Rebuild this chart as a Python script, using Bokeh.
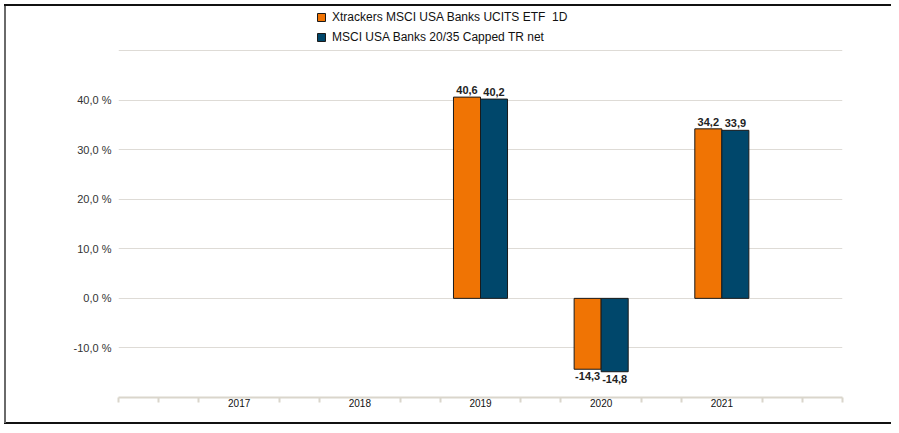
from bokeh.plotting import figure
from bokeh.models import ColumnDataSource, FixedTicker, Legend, LegendItem, Range1d
from bokeh.transform import dodge
from bokeh.core.properties import value
from bokeh.embed import file_html
from bokeh.resources import INLINE

years = [2017, 2018, 2019, 2020, 2021]
etf = [None, None, 40.6, -14.3, 34.2]
idx = [None, None, 40.2, -14.8, 33.9]
series_names = ["Xtrackers MSCI USA Banks UCITS ETF  1D", "MSCI USA Banks 20/35 Capped TR net"]
y_ticks = [-20, -10, 0, 10, 20, 30, 40, 50]
y_labels = {-20: "", -10: "-10,0 %", 0: "0,0 %", 10: "10,0 %", 20: "20,0 %", 30: "30,0 %", 40: "40,0 %", 50: ""}

ORANGE = "#f07404"
NAVY = "#00476b"

def fmt(v):
    return ("%.1f" % v).replace(".", ",")

def make_src(vals):
    xs, ys, labs = [], [], []
    for yr, v in zip(years, vals):
        if v is None:
            continue
        xs.append(yr); ys.append(v); labs.append(fmt(v))
    return ColumnDataSource(dict(x=xs, top=ys, lab=labs))

s1 = make_src(etf)
s2 = make_src(idx)

p = figure(width=891, height=425, output_backend="svg", toolbar_location=None,
           x_range=Range1d(2016, 2022), y_range=Range1d(-20, 60.09),
           min_border_left=118, min_border_right=49, min_border_top=0, min_border_bottom=28)
p.title.visible = False
p.outline_line_color = None
p.background_fill_alpha = 0
p.border_fill_alpha = 0
p.styles = {
    "background-image": "linear-gradient(#111,#111), linear-gradient(#6a6a6a,#6a6a6a), linear-gradient(#111,#111)",
    "background-size": "900px 2px, 2px 419px, 900px 2px",
    "background-position": "4px 4px, 4px 4px, 4px 422px",
    "background-repeat": "no-repeat",
}

off = 0.112
w = 0.224
r1 = p.vbar(x=dodge("x", -off, range=p.x_range), top="top", bottom=0, width=w, source=s1,
            fill_color=ORANGE, line_color="#1a1a1a", line_width=1)
r2 = p.vbar(x=dodge("x", off, range=p.x_range), top="top", bottom=0, width=w, source=s2,
            fill_color=NAVY, line_color="#1a1a1a", line_width=1)

for src, o in ((s1, -off), (s2, off)):
    pos = ColumnDataSource(dict(
        x=[xx + o for xx, t in zip(src.data["x"], src.data["top"]) if t >= 0],
        top=[t for t in src.data["top"] if t >= 0],
        lab=[l for l, t in zip(src.data["lab"], src.data["top"]) if t >= 0]))
    neg = ColumnDataSource(dict(
        x=[xx + o for xx, t in zip(src.data["x"], src.data["top"]) if t < 0],
        top=[t for t in src.data["top"] if t < 0],
        lab=[l for l, t in zip(src.data["lab"], src.data["top"]) if t < 0]))
    p.text(x="x", y="top", text="lab", source=pos, text_align="center", text_baseline="bottom",
           y_offset=-3, text_font=value("Liberation Sans"), text_font_size="11px",
           text_font_style="bold", text_color="#222222")
    p.text(x="x", y="top", text="lab", source=neg, text_align="center", text_baseline="top",
           y_offset=3, text_font=value("Liberation Sans"), text_font_size="11px",
           text_font_style="bold", text_color="#222222")

p.yaxis.ticker = FixedTicker(ticks=y_ticks)
p.yaxis.major_label_overrides = dict(y_labels)
p.yaxis.axis_line_color = None
p.yaxis.major_tick_line_color = None
p.yaxis.minor_tick_line_color = None
p.yaxis.major_label_standoff = 1
p.yaxis.major_label_text_font = "Liberation Sans"
p.yaxis.major_label_text_font_size = "11px"
p.yaxis.major_label_text_color = "#333333"
p.ygrid.ticker = FixedTicker(ticks=y_ticks)
p.ygrid.grid_line_color = "#dedbd6"
p.ygrid.grid_line_width = 1

minor = [2016 + k / 3 for k in range(19) if k % 3 != 0 or k in (0, 18)]
p.xaxis.ticker = FixedTicker(ticks=years, minor_ticks=minor)
p.xaxis.axis_line_color = "#dad6cc"
p.xaxis.axis_line_width = 2
p.xaxis.major_tick_line_color = None
p.xaxis.minor_tick_line_color = "#dad6cc"
p.xaxis.minor_tick_line_width = 2
p.xaxis.minor_tick_out = 5
p.xaxis.minor_tick_in = 0
p.xaxis.major_tick_out = 0
p.xaxis.major_label_standoff = -4
p.xaxis.major_label_text_font = "Liberation Sans"
p.xaxis.major_label_text_font_size = "10px"
p.xaxis.major_label_text_color = "#111111"
p.xgrid.grid_line_color = None

legend = Legend(items=[LegendItem(label=series_names[0], renderers=[r1]),
                       LegendItem(label=series_names[1], renderers=[r2])],
                location=(198, 352), padding=0, margin=0, spacing=4,
                label_height=16, glyph_height=10, glyph_width=10, label_standoff=6,
                label_text_font="Liberation Sans", label_text_font_size="12px",
                label_text_color="#111111", border_line_color=None,
                background_fill_alpha=0)
p.add_layout(legend, "center")

open("out.html", "w").write(file_html(p, INLINE))
